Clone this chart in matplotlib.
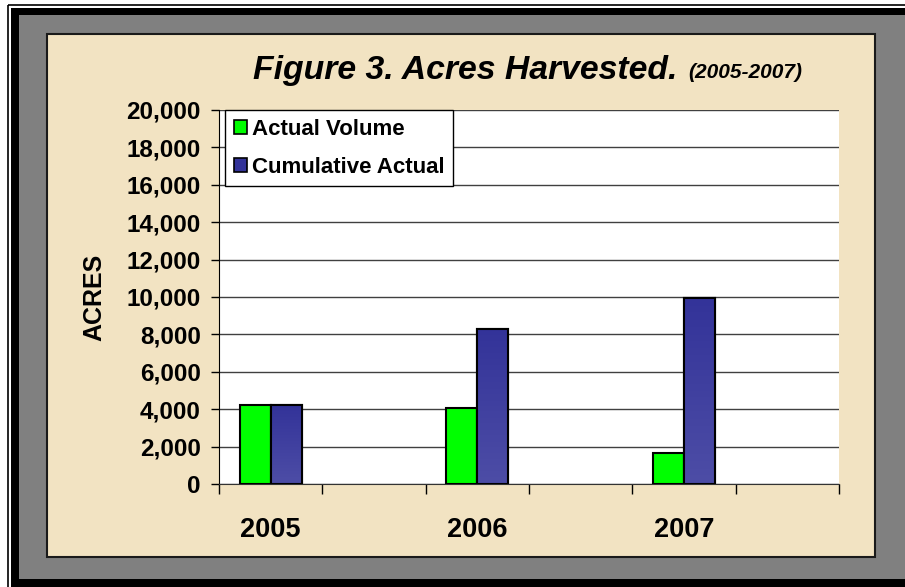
import numpy as np
import matplotlib
matplotlib.use("Agg")
import matplotlib.pyplot as plt
from matplotlib.patches import Rectangle
from matplotlib.colors import LinearSegmentedColormap

# Data
years = ["2005", "2006", "2007"]
actual_volume = [4250, 4050, 1650]
cumulative_actual = [4250, 8300, 9950]
series_names = ["Actual Volume", "Cumulative Actual"]
y_ticks = [0, 2000, 4000, 6000, 8000, 10000, 12000, 14000, 16000, 18000, 20000]

plt.rcParams["font.family"] = ["Liberation Sans", "DejaVu Sans"]
plt.rcParams["font.weight"] = "bold"

W, H = 905, 587
fig = plt.figure(figsize=(W / 100, H / 100), dpi=100)
fig.patch.set_facecolor("white")

# Frame drawn in pixel coordinates on a background axes
bg = fig.add_axes([0, 0, 1, 1], zorder=-5)
bg.set_xlim(0, W)
bg.set_ylim(H, 0)
bg.axis("off")
bg.add_patch(Rectangle((8, 5), W, H, fill=False, edgecolor="black", lw=1.2))
bg.add_patch(Rectangle((11, 8), W, H, facecolor="black", edgecolor="none"))
bg.add_patch(Rectangle((19, 15), W, 579 - 15, facecolor="#808080", edgecolor="none"))
bg.add_patch(Rectangle((47, 34), 875 - 47, 557 - 34, facecolor="#F2E3C2",
                       edgecolor="#1a1a1a", lw=1.5))

# Plot area
ax = fig.add_axes([219 / W, 1 - 484 / H, 620 / W, 374 / H])
ax.set_facecolor("white")

# the original sheet leaves an empty slot after every year
n_slots = 2 * len(years)
x = np.arange(len(years)) * 2
bw = 0.3
green_bars = ax.bar(x - bw / 2, actual_volume, bw, color="#00FF00",
                    edgecolor="black", lw=1.5, zorder=3, label=series_names[0])
blue_bars = ax.bar(x + bw / 2, cumulative_actual, bw, color="#383898",
                   edgecolor="black", lw=1.5, zorder=3, label=series_names[1])

# vertical gradient inside the blue bars
grad = LinearSegmentedColormap.from_list("bl", ["#4D4DA6", "#333399"])
for b in blue_bars:
    im = ax.imshow(np.linspace(0, 1, 64).reshape(-1, 1), cmap=grad, origin="lower",
                   extent=(b.get_x(), b.get_x() + b.get_width(), 0, b.get_height()),
                   aspect="auto", zorder=3.5)
    im.set_clip_path(b)
    edge = Rectangle((b.get_x(), 0), b.get_width(), b.get_height(), fill=False,
                     edgecolor="black", lw=1.5, zorder=4)
    ax.add_patch(edge)

ax.set_xlim(-0.5, n_slots - 0.5)
ax.set_ylim(0, 20000)
ax.set_yticks(y_ticks)
ax.set_yticklabels([f"{v:,}" for v in y_ticks], fontsize=17.5, fontweight="bold")
ax.yaxis.grid(True, color="#404040", lw=1)
ax.set_axisbelow(True)

ax.set_xticks(x)
ax.set_xticklabels(years, fontsize=19.5, fontweight="bold")
ax.set_xticks(np.arange(-0.5, n_slots), minor=True)
ax.tick_params(axis="x", which="major", length=0, pad=24)
ax.tick_params(axis="x", which="minor", length=7, width=1, direction="out")
ax.tick_params(axis="y", length=6, width=1, pad=7, direction="out")

for s in ["top", "right"]:
    ax.spines[s].set_visible(False)
ax.spines["left"].set_color("black")
ax.spines["bottom"].set_color("#333333")

leg_handles = [Rectangle((0, 0), 1, 1, facecolor="#00FF00", edgecolor="black", lw=1.2),
               Rectangle((0, 0), 1, 1, facecolor="#333399", edgecolor="black", lw=1.2)]
leg = ax.legend(leg_handles, series_names, loc="upper left",
                bbox_to_anchor=(6 / 620, 1.0), borderaxespad=0, fancybox=False,
                framealpha=1, edgecolor="black", prop={"size": 16, "weight": "bold"},
                handlelength=0.6, handleheight=0.6, handletextpad=0.2,
                borderpad=0.4, labelspacing=0.75)
leg.get_frame().set_linewidth(1)

fig.text(94 / W, 1 - 297 / H, "ACRES", rotation=90, ha="center", va="center",
         fontsize=18, fontweight="bold")

fig.text(253 / W, 1 - 79 / H, "Figure 3. Acres Harvested.", ha="left",
         va="baseline", fontsize=24.3, fontweight="bold", style="italic")
fig.text(688 / W, 1 - 78 / H, "(2005-2007)", ha="left", va="baseline",
         fontsize=15, fontweight="bold", style="italic")

fig.savefig("out.png", dpi=100)
